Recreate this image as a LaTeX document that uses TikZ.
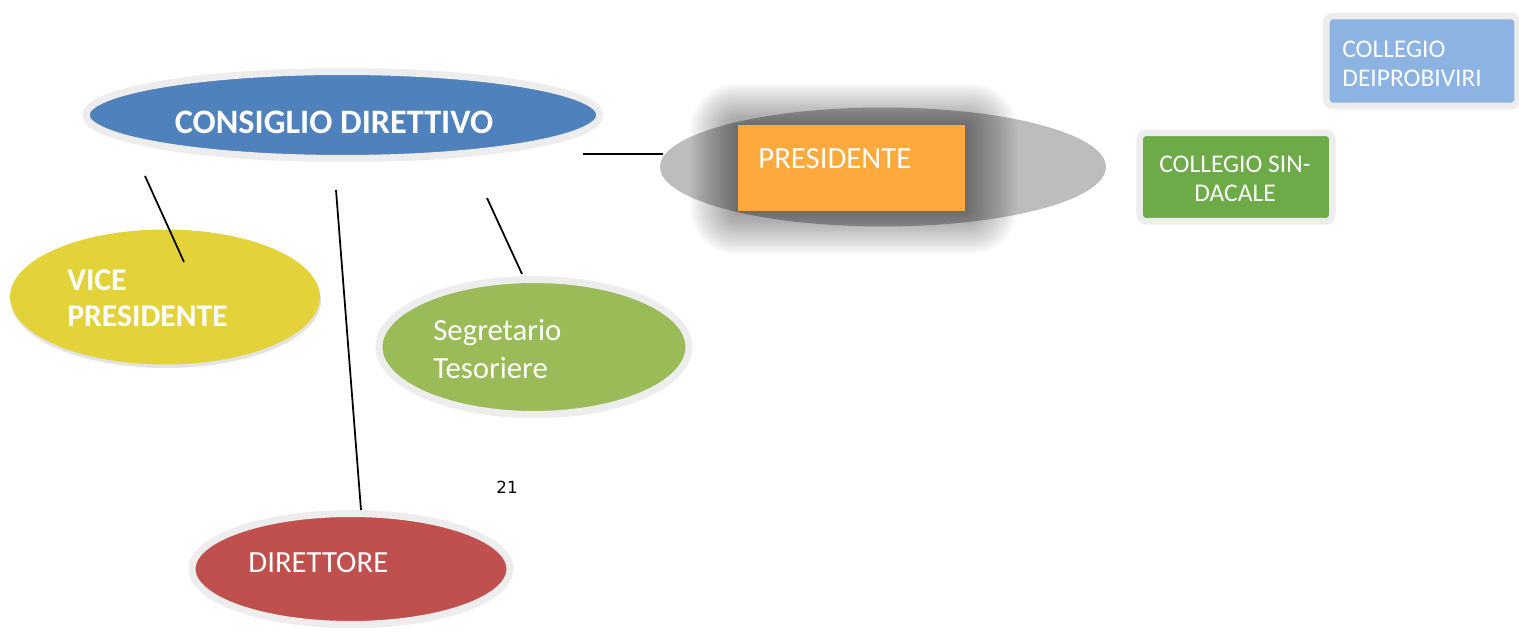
\documentclass[tikz,border=0pt]{standalone}
\usepackage{fontspec}
\setmainfont{Carlito}
\newfontfamily\numfont{DejaVu Sans}
\usetikzlibrary{shapes.geometric,shadows}
\definecolor{cdblue}{HTML}{4F81BD}
\definecolor{framegray}{HTML}{EDEDED}
\definecolor{presgray}{HTML}{BDBDBD}
\definecolor{presorange}{HTML}{FDA93D}
\definecolor{viceyellow}{HTML}{E3D23A}
\definecolor{segreen}{HTML}{9BBB59}
\definecolor{dirred}{HTML}{C0504D}
\definecolor{sindgreen}{HTML}{6DAA48}
\definecolor{probblue}{HTML}{8DB3E2}
\definecolor{shadowbrown}{HTML}{8A5A5A}
\begin{document}
\begin{tikzpicture}[x=0.02cm,y=-0.02cm,
  oval/.style={ellipse, inner sep=0pt, draw=framegray, line width=0.14cm,
    drop shadow={opacity=0.22, shadow xshift=0.6pt, shadow yshift=-2pt}},
  flatoval/.style={ellipse, inner sep=0pt,
    drop shadow={opacity=0.22, shadow xshift=0.6pt, shadow yshift=-2pt}},
  cbox/.style={rectangle, rounded corners=4pt, inner sep=0pt, draw=framegray, line width=0.13cm,
    drop shadow={color=shadowbrown, opacity=0.35, shadow xshift=0.8pt, shadow yshift=-1.6pt}},
  lbl/.style={text=white, inner sep=0pt, font=\fontsize{17.5}{21}\selectfont},
  blbl/.style={text=white, inner sep=0pt, font=\fontsize{18}{20.5}\selectfont\bfseries},
  slbl/.style={text=white, inner sep=0pt, font=\fontsize{14.5}{16.5}\selectfont},
  conn/.style={draw=black, line width=1pt}]
\useasboundingbox (0,0) rectangle (1519,634);

% CONSIGLIO DIRETTIVO
\node[oval, fill=cdblue, minimum width=10.28cm, minimum height=1.74cm] (cd) at (343,115) {};
\node[blbl, font=\fontsize{19.5}{22}\selectfont\bfseries, anchor=base] (cdt) at (334,134) {CONSIGLIO DIRETTIVO};

% PRESIDENTE
\node[ellipse, inner sep=0pt, fill=presgray, minimum width=8.92cm, minimum height=2.38cm] (pe) at (883,167) {};
\foreach \i in {1,...,24}{
  \fill[black, opacity=0.019, rounded corners={\i*1.1pt}] ({738-2*\i},{127-1.8*\i}) rectangle ({965+2.2*\i},{211+1.8*\i});
}
\node[rectangle, inner sep=0pt, fill=presorange, minimum width=4.54cm, minimum height=1.72cm] (pb) at (851.5,168) {};
\node[lbl, anchor=base west] (pt) at (758,169) {PRESIDENTE};

% VICE PRESIDENTE
\node[flatoval, fill=viceyellow, minimum width=6.2cm, minimum height=2.7cm] (vp) at (165,297) {};
\node[blbl, anchor=north west, align=left] (vpt) at (67,269) {VICE\\PRESIDENTE};

% Segretario Tesoriere
\node[oval, fill=segreen, minimum width=6.2cm, minimum height=2.7cm] (st) at (534,347) {};
\node[lbl, anchor=north west, align=left, font=\fontsize{17.5}{21.5}\selectfont] (stt) at (433,319) {Segretario\\Tesoriere};

% DIRETTORE
\node[oval, fill=dirred, minimum width=6.36cm, minimum height=2.22cm] (dr) at (351,569) {};
\node[lbl, anchor=base west] (drt) at (248,573) {DIRETTORE};

% page number
\node[inner sep=0pt, anchor=base, font=\numfont\fontsize{9.5}{11}\selectfont] (pg) at (507,494) {21};

% COLLEGIO SINDACALE
\node[cbox, fill=sindgreen, minimum width=3.86cm, minimum height=1.77cm] (cs) at (1236,177) {};
\node[slbl, anchor=north, align=center] (cst) at (1235,156) {COLLEGIO SIN-\\DACALE};

% COLLEGIO DEIPROBIVIRI
\node[cbox, fill=probblue, minimum width=3.83cm, minimum height=1.8cm] (cp) at (1422,61) {};
\node[slbl, anchor=north west, align=left] (cpt) at (1342,41) {COLLEGIO\\DEIPROBIVIRI};

% connectors
\coordinate (a1) at (583,154); \coordinate (a2) at (663,154);
\coordinate (b1) at (145,176); \coordinate (b2) at (184,262);
\coordinate (c1) at (336,190); \coordinate (c2) at (361,510);
\coordinate (d1) at (487,198); \coordinate (d2) at (522,274);
\draw[conn] (a1) -- (a2);
\draw[conn] (b1) -- (b2);
\draw[conn] (c1) -- (c2);
\draw[conn] (d1) -- (d2);
\end{tikzpicture}
\end{document}
